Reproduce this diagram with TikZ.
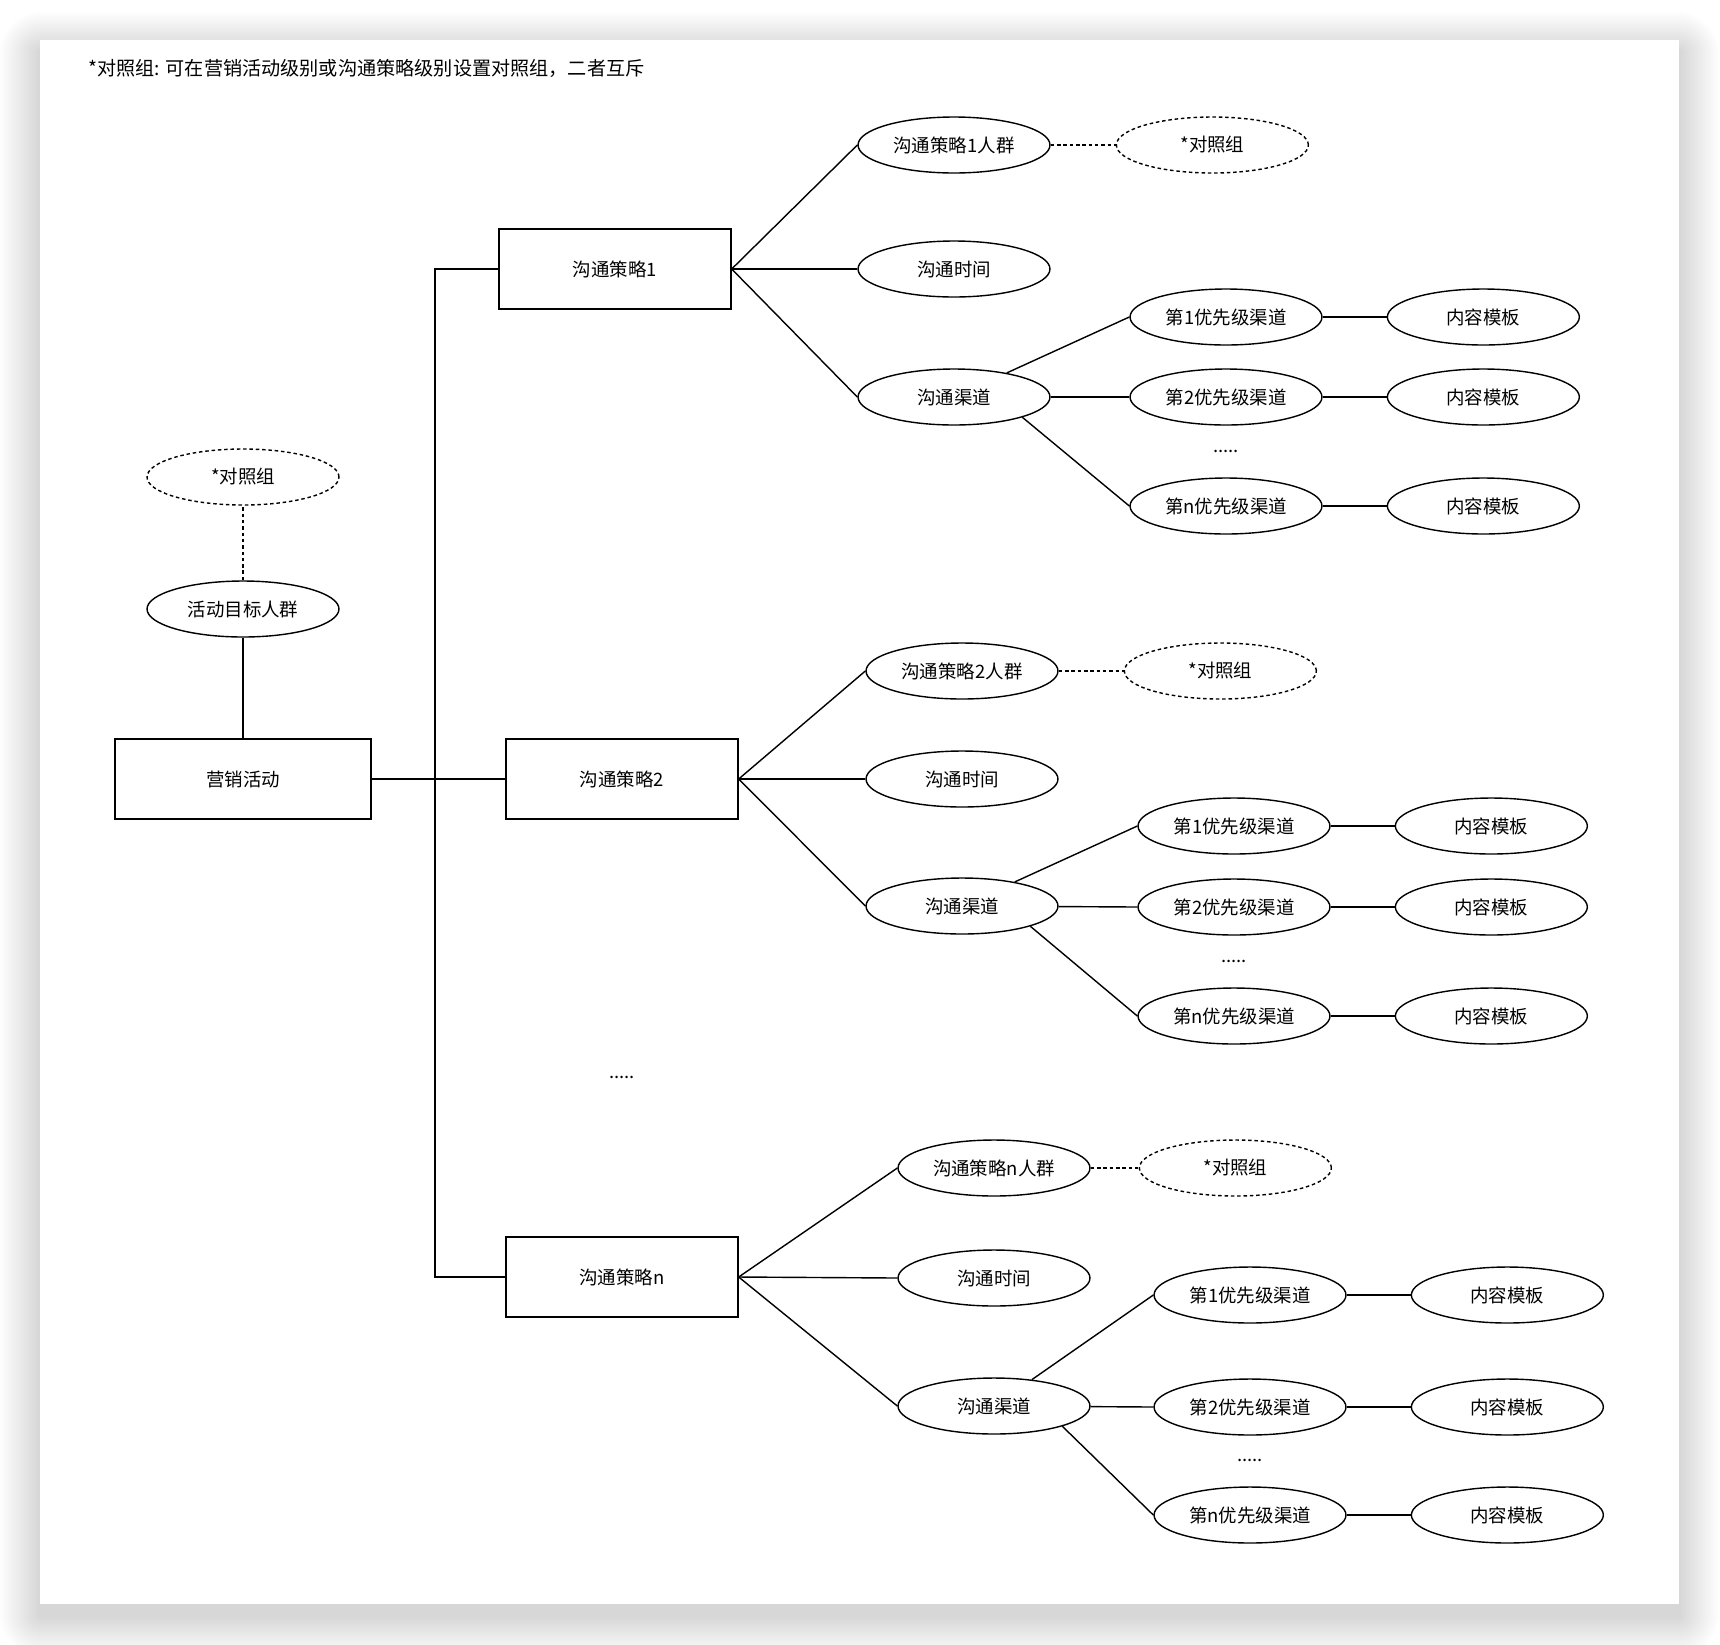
\documentclass[tikz,border=0pt]{standalone}
\usepackage{fontspec}
\setmainfont{Noto Sans CJK SC}
\usetikzlibrary{shapes.geometric, positioning}

\begin{document}
\begin{tikzpicture}[
        x=0.02cm, y=-0.02cm,
        node distance=1.28cm,
        every node/.style={font=\fontsize{10.5}{12}\selectfont},
        block/.style={rectangle, draw, line width=0.8pt, fill=white, minimum width=4.64cm, minimum height=1.6cm, inner sep=0pt},
        oval/.style={ellipse, draw, line width=0.8pt, fill=white, minimum width=3.84cm, minimum height=1.12cm, inner sep=0pt},
        ctrl/.style={oval, dash pattern=on 2pt off 1.6pt},
        link/.style={line width=0.8pt},
        dlink/.style={link, dash pattern=on 2pt off 1.6pt}
    ]
        \useasboundingbox (0,0) rectangle (1720,1644);
        \fill[white] (0,0) rectangle (1720,1644);
        % card and its soft shadow
        \foreach \s in {2,4,...,40}
            \fill[black, opacity=0.006, rounded corners=\s*0.6pt] (40-\s,52-\s) rectangle (1679+\s,1616+\s);
        \fill[white] (40,40) rectangle (1679,1604);

        \node[anchor=west, inner sep=0pt, font=\fontsize{10.9}{12}\selectfont] (note) at (88,68) {*对照组: 可在营销活动级别或沟通策略级别设置对照组，二者互斥};

        % campaign
        \node[block, minimum width=5.12cm] (camp) at (243,779) {营销活动};
        \node[oval] (aud0) at (243,609) {活动目标人群};
        \node[ctrl] (ctl0) at (243,477) {*对照组};

        % strategies
        \node[block] (s1) at (615,269) {沟通策略1};
        \node[block] (s2) at (622,779) {沟通策略2};
        \node[block] (sn) at (622,1277) {沟通策略n};
        \node (sdots) at (622,1077) {.....};

        % strategy 1
        \node[oval] (aud1) at (954,145) {沟通策略1人群};
        \node[ctrl, right=1.3cm of aud1] (ctl1) {*对照组};
        \node[oval] (time1) at (954,269) {沟通时间};
        \node[oval] (chan1) at (954,397) {沟通渠道};
        \node[oval] (p1-1) at (1226,317) {第1优先级渠道};
        \node[oval] (p1-2) at (1226,397) {第2优先级渠道};
        \node (dots1) at (1226,451) {.....};
        \node[oval] (p1-n) at (1226,506) {第n优先级渠道};
        \node[oval, right=of p1-1] (t1-1) {内容模板};
        \node[oval, right=of p1-2] (t1-2) {内容模板};
        \node[oval, right=of p1-n] (t1-n) {内容模板};

        % strategy 2
        \node[oval] (aud2) at (962,671) {沟通策略2人群};
        \node[ctrl, right=1.3cm of aud2] (ctl2) {*对照组};
        \node[oval] (time2) at (962,779) {沟通时间};
        \node[oval] (chan2) at (962,906) {沟通渠道};
        \node[oval] (p2-1) at (1234,826) {第1优先级渠道};
        \node[oval] (p2-2) at (1234,907) {第2优先级渠道};
        \node (dots2) at (1234,961) {.....};
        \node[oval] (p2-n) at (1234,1016) {第n优先级渠道};
        \node[oval, right=of p2-1] (t2-1) {内容模板};
        \node[oval, right=of p2-2] (t2-2) {内容模板};
        \node[oval, right=of p2-n] (t2-n) {内容模板};

        % strategy n
        \node[oval] (audn) at (994,1168) {沟通策略n人群};
        \node[ctrl, right=0.96cm of audn] (ctln) {*对照组};
        \node[oval] (timen) at (994,1278) {沟通时间};
        \node[oval] (chann) at (994,1406) {沟通渠道};
        \node[oval] (pn-1) at (1250,1295) {第1优先级渠道};
        \node[oval] (pn-2) at (1250,1407) {第2优先级渠道};
        \node (dotsn) at (1250,1460) {.....};
        \node[oval] (pn-n) at (1250,1515) {第n优先级渠道};
        \node[oval, right=of pn-1] (tn-1) {内容模板};
        \node[oval, right=of pn-2] (tn-2) {内容模板};
        \node[oval, right=of pn-n] (tn-n) {内容模板};

        % connectors
        \draw[link] (camp) -- (aud0);
        \draw[dlink] (aud0) -- (ctl0);
        \coordinate (trunk) at (435,779);
        \draw[link] (camp.east) -- (trunk) |- (s1.west);
        \draw[link] (camp.east) -- (s2.west);
        \draw[link] (trunk) |- (sn.west);

        \foreach \g in {1,2,n} {
            \draw[link] (s\g.east) -- (aud\g.west);
            \draw[link] (s\g.east) -- (time\g.west);
            \draw[link] (s\g.east) -- (chan\g.west);
            \draw[dlink] (aud\g.east) -- (ctl\g.west);
            \draw[link] (chan\g) -- (p\g-1.west);
            \draw[link] (chan\g) -- (p\g-2.west);
            \draw[link] (chan\g.south east) -- (p\g-n.west);
            \foreach \k in {1,2,n}
                \draw[link] (p\g-\k.east) -- (t\g-\k.west);
        }
    \end{tikzpicture}
\end{document}
